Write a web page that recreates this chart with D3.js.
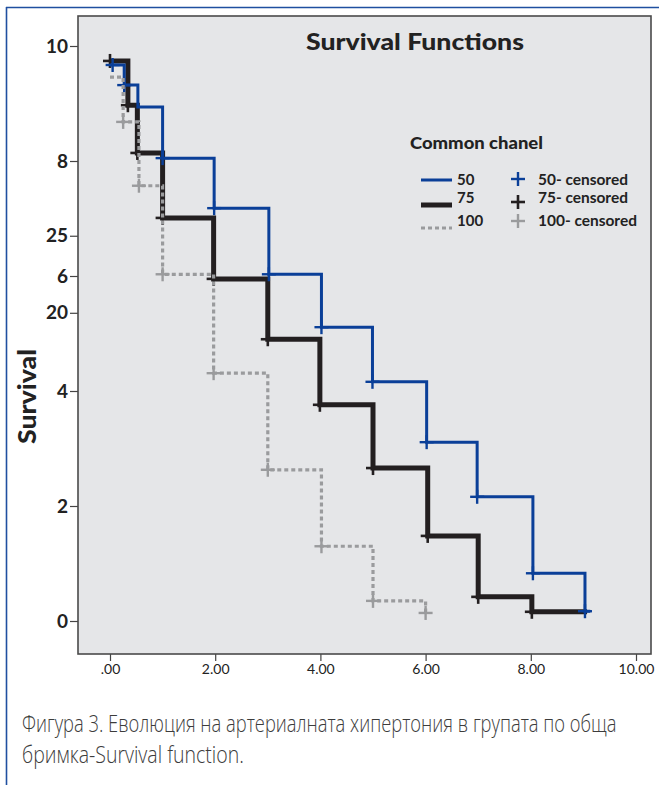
<!DOCTYPE html>
<html><head><meta charset="utf-8">
<script src="https://cdn.jsdelivr.net/npm/d3@7"></script>
<style>html,body{margin:0;padding:0;background:#fff;}svg{display:block;}</style>
</head><body>
<svg id="c" width="659" height="785"></svg>
<script>
// ---- data ----
const blueTimes  = [0, 0.27, 0.53, 1.0, 1.98, 3.02, 4.02, 4.99, 6.02, 6.98, 8.04, 9.03];
const blueValues = [9.67, 9.32, 8.94, 8.05, 7.18, 6.03, 5.11, 4.16, 3.11, 2.16, 0.83, 0.17];
const blueEnd = 9.13;
const blueCensored = [0.05, 0.27, 1.0, 1.98, 3.02, 4.02, 4.99, 6.02, 6.98, 8.04, 9.03];

const blackTimes  = [0, 0.34, 0.52, 1.0, 1.97, 3.0, 3.99, 5.0, 6.04, 7.0, 8.02];
const blackValues = [9.74, 8.97, 8.14, 7.01, 5.95, 4.90, 3.76, 2.66, 1.48, 0.42, 0.16];
const blackEnd = 9.07;
const blackCensored = [0.0, 0.34, 0.52, 1.0, 1.97, 3.0, 3.99, 5.0, 6.04, 7.0, 8.02];

const grayTimes  = [0, 0.25, 0.55, 1.0, 1.97, 3.0, 4.02, 5.0, 6.0];
const grayValues = [9.46, 8.68, 7.57, 6.03, 4.31, 2.63, 1.30, 0.35, 0.14];
const grayEnd = 6.0;
const grayCensored = [0.25, 0.55, 1.0, 1.97, 3.0, 4.02, 5.0, 6.0];

const xTickValues = [0, 2, 4, 6, 8, 10];
const xTickLabels = [".00", "2.00", "4.00", "6.00", "8.00", "10.00"];
const yTickValues = [0, 2, 4, 5.36, 6, 6.7, 8, 10];
const yTickLabels = ["0", "2", "4", "20", "6", "25", "8", "10"];

const legendLabels = ["50", "75", "100"];
const legendCensLabels = ["50- censored", "75- censored", "100- censored"];
const title = "Survival Functions";
const legendTitle = "Common chanel";
const yTitle = "Survival";
const caption = ["Фигура 3. Еволюция на артериалната хипертония в групата по обща",
                 "бримка-Survival function."];

// ---- layout ----
const svg = d3.select("#c");
const BLUE = "#0a3f98", BLACK = "#231f20", GRAY = "#9a9b9d", FRAME = "#1f4fa0";
const LF = "Lato, 'Open Sans', sans-serif";

function fitText(sel, x0, y0, w) {
  const nat = sel.node().getComputedTextLength();
  const k = w / nat;
  sel.attr("x", null).attr("y", null)
     .attr("transform", `translate(${x0},${y0}) scale(${k},1)`);
  return sel;
}

// outer frame
svg.append("line").attr("x1", 6).attr("x2", 659).attr("y1", 7.5).attr("y2", 7.5)
  .attr("stroke", FRAME).attr("stroke-width", 1.6);
svg.append("line").attr("x1", 6.5).attr("x2", 6.5).attr("y1", 7).attr("y2", 785)
  .attr("stroke", FRAME).attr("stroke-width", 1.6);

const P = {l: 78, t: 16, r: 651, b: 654};
svg.append("rect").attr("x", P.l).attr("y", P.t).attr("width", P.r - P.l).attr("height", P.b - P.t)
  .attr("fill", "#e5e6e8");

const x = d3.scaleLinear().domain([0, 10]).range([110, 636]);
const y = d3.scaleLinear().domain([0, 10]).range([621, 46]);

// axes
const xAxis = d3.axisBottom(x).tickValues(xTickValues)
  .tickFormat((d, i) => xTickLabels[i]).tickSize(7).tickPadding(3);
const gx = svg.append("g").attr("transform", `translate(0,${P.b})`).call(xAxis);
gx.select(".domain").remove();
gx.selectAll("line").attr("stroke", "#444").attr("stroke-width", 1.2);
gx.selectAll("text").attr("font-family", LF).attr("font-size", 14).attr("fill", "#222");

const yAxis = d3.axisLeft(y).tickValues(yTickValues)
  .tickFormat((d, i) => yTickLabels[i]).tickSize(8).tickPadding(2);
const gy = svg.append("g").attr("transform", `translate(${P.l},0)`).call(yAxis);
gy.select(".domain").remove();
gy.selectAll("line").attr("stroke", "#444").attr("stroke-width", 1.2);
gy.selectAll("text").attr("font-family", LF).attr("font-size", 19)
  .attr("font-weight", "bold").attr("fill", "#222");

// curves
const line = d3.line().x(d => x(d[0])).y(d => y(d[1])).curve(d3.curveStepAfter);
function series(times, values, end) {
  const pts = times.map((t, i) => [t, values[i]]);
  pts.push([end, values[values.length - 1]]);
  return pts;
}
function valueAt(times, values, t) {
  return values[Math.max(0, d3.bisectRight(times, t + 1e-9) - 1)];
}
function plus(g, cx, cy, s, color, w) {
  g.append("line").attr("x1", cx - s).attr("x2", cx + s).attr("y1", cy).attr("y2", cy)
    .attr("stroke", color).attr("stroke-width", w);
  g.append("line").attr("x1", cx).attr("x2", cx).attr("y1", cy - s).attr("y2", cy + s)
    .attr("stroke", color).attr("stroke-width", w);
}

const defs = [
  {times: blackTimes, values: blackValues, end: blackEnd, cens: blackCensored, color: BLACK, w: 5, dash: null, pw: 2.6},
  {times: blueTimes, values: blueValues, end: blueEnd, cens: blueCensored, color: BLUE, w: 3, dash: null, pw: 2.4},
  {times: grayTimes, values: grayValues, end: grayEnd, cens: grayCensored, color: GRAY, w: 3.2, dash: "4,3", pw: 2.4}
];
defs.forEach(s => {
  svg.append("path").datum(series(s.times, s.values, s.end)).attr("d", line)
    .attr("fill", "none").attr("stroke", s.color).attr("stroke-width", s.w)
    .attr("stroke-dasharray", s.dash).attr("stroke-linejoin", "miter").attr("stroke-linecap", "butt");
  const g = svg.append("g");
  s.cens.forEach(t => plus(g, x(t), y(valueAt(s.times, s.values, t)), 7, s.color, s.pw));
});

// plot border
svg.append("rect").attr("x", P.l).attr("y", P.t).attr("width", P.r - P.l).attr("height", P.b - P.t)
  .attr("fill", "none").attr("stroke", "#4a4a4a").attr("stroke-width", 1.6);

// title
fitText(svg.append("text").text(title)
  .attr("font-family", LF).attr("font-weight", 900).attr("font-size", 23).attr("fill", "#222"),
  306, 50, 218);

// y title
const yt = svg.append("g").attr("transform", "translate(36,444) rotate(-90)");
fitText(yt.append("text").text(yTitle).attr("font-family", LF).attr("font-weight", 900)
  .attr("font-size", 25).attr("fill", "#222"), 0, 0, 95);

// legend
fitText(svg.append("text").text(legendTitle).attr("font-family", LF)
  .attr("font-weight", 900).attr("font-size", 16).attr("fill", "#222"), 410, 149, 133);
const legY = [180, 205, 228];
const legTextY = [185, 203, 226];
const plusY = [179, 202, 221];
const censW = [90, 90, 99];
const order = [defs[1], defs[0], defs[2]];
legendLabels.forEach((lab, i) => {
  const s = order[i];
  svg.append("line").attr("x1", 421).attr("x2", 452).attr("y1", legY[i]).attr("y2", legY[i])
    .attr("stroke", s.color).attr("stroke-width", s.w).attr("stroke-dasharray", s.dash);
  svg.append("text").attr("x", 457).attr("y", legTextY[i]).text(lab).attr("font-family", LF)
    .attr("font-weight", "bold").attr("font-size", 15).attr("fill", "#222");
  plus(svg, 518, plusY[i], 7, s.color, s.pw);
  fitText(svg.append("text").text(legendCensLabels[i]).attr("font-family", LF)
    .attr("font-weight", "bold").attr("font-size", 15).attr("fill", "#222"), 538, legTextY[i], censW[i]);
});

// caption
const capW = [595, 222];
caption.forEach((c, i) => {
  fitText(svg.append("text").text(c)
    .attr("font-family", "'Liberation Sans Narrow', 'Open Sans', sans-serif").attr("font-weight", 300)
    .attr("font-size", 24).attr("fill", "#3c3c3c"), 22, 732 + i * 31, capW[i]);
});
</script>
</body></html>
